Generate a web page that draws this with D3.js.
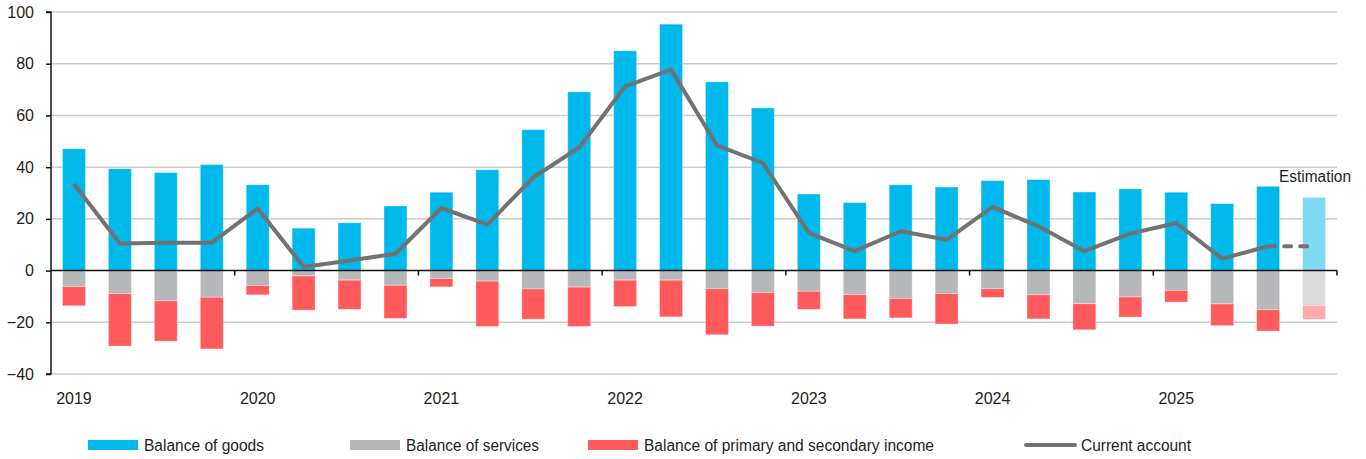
<!DOCTYPE html>
<html>
<head>
<meta charset="utf-8">
<script src="https://cdn.jsdelivr.net/npm/d3@7"></script>
<style>
  html, body { margin: 0; padding: 0; background: #fff; }
  svg { display: block; }
  text { font-family: "Liberation Sans", Arial, sans-serif; fill: #1e1e1e; }
</style>
</head>
<body>
<svg id="chart" width="1366" height="459"></svg>
<script>
// Quarterly current account breakdown, EUR bn
const quarters = [
  "2019Q1","2019Q2","2019Q3","2019Q4",
  "2020Q1","2020Q2","2020Q3","2020Q4",
  "2021Q1","2021Q2","2021Q3","2021Q4",
  "2022Q1","2022Q2","2022Q3","2022Q4",
  "2023Q1","2023Q2","2023Q3","2023Q4",
  "2024Q1","2024Q2","2024Q3","2024Q4",
  "2025Q1","2025Q2","2025Q3","2025Q4"
];
const goods = [47.1, 39.4, 37.9, 41.0, 33.2, 16.4, 18.5, 25.0, 30.3, 39.0, 54.5, 69.1, 85.0, 95.3,
               73.0, 62.9, 29.6, 26.3, 33.2, 32.3, 34.8, 35.2, 30.4, 31.6, 30.3, 25.9, 32.6, 28.3];
const services = [-6.2, -8.9, -11.7, -10.3, -5.8, -2.1, -3.7, -5.7, -3.1, -4.1, -7.1, -6.4, -3.7, -3.7,
                  -7.0, -8.5, -8.0, -9.3, -10.8, -8.9, -7.0, -9.4, -12.8, -10.2, -7.7, -12.9, -15.1, -13.5];
const income = [-7.4, -20.3, -15.6, -20.0, -3.6, -13.2, -11.3, -12.8, -3.2, -17.5, -11.7, -15.2, -10.2, -14.2,
                -17.8, -13.0, -7.0, -9.4, -7.5, -11.8, -3.4, -9.3, -10.1, -7.8, -4.5, -8.4, -8.3, -5.4];
const currentAccount = [33.5, 10.5, 10.8, 10.8, 24.0, 1.4, 3.9, 6.5, 24.2, 17.8, 36.0, 47.6, 71.2, 77.7,
                        48.4, 41.6, 14.6, 7.5, 15.2, 11.9, 24.6, 17.1, 7.5, 14.3, 18.4, 4.6, 9.4, 9.4];
const estimatedQuarters = ["2025Q4"];
const yTicks = [-40, -20, 0, 20, 40, 60, 80, 100];
const yearLabels = ["2019", "2020", "2021", "2022", "2023", "2024", "2025"];
const seriesNames = ["Balance of goods", "Balance of services",
                     "Balance of primary and secondary income", "Current account"];

const colors = {
  goods: "#00b9ec", services: "#b6b7b9", income: "#ff5a5c", line: "#727272",
  goodsEst: "#7fd9f3", servicesEst: "#dadada", incomeEst: "#ffaaab",
  grid: "#cbcbcb", axis: "#111"
};

const svg = d3.select("#chart");
const plotLeft = 51, plotRight = 1337, plotTop = 12, plotBottom = 374;

const x = d3.scaleBand().domain(quarters).range([plotLeft, plotRight]).paddingInner(0.5).paddingOuter(0.25);
const y = d3.scaleLinear().domain([-40, 100]).range([plotBottom, plotTop]);

// Horizontal gridlines
svg.append("g").selectAll("line")
  .data(yTicks.filter(t => t !== 0))
  .join("line")
  .attr("x1", plotLeft + 1).attr("x2", plotRight)
  .attr("y1", d => y(d)).attr("y2", d => y(d))
  .attr("stroke", colors.grid).attr("stroke-width", 1.5);

// Stacked bars: goods above zero, services then income below zero
const rows = quarters.map((q, i) => ({
  q, goods: goods[i], services: services[i], income: income[i],
  est: estimatedQuarters.includes(q)
}));
const segs = [];
rows.forEach(r => {
  segs.push({ q: r.q, y0: 0, y1: r.goods, fill: r.est ? colors.goodsEst : colors.goods });
  segs.push({ q: r.q, y0: 0, y1: r.services, fill: r.est ? colors.servicesEst : colors.services });
  segs.push({ q: r.q, y0: r.services, y1: r.services + r.income, fill: r.est ? colors.incomeEst : colors.income });
});
svg.append("g").selectAll("rect")
  .data(segs)
  .join("rect")
  .attr("x", d => x(d.q))
  .attr("width", x.bandwidth())
  .attr("y", d => y(Math.max(d.y0, d.y1)))
  .attr("height", d => Math.abs(y(d.y0) - y(d.y1)))
  .attr("fill", d => d.fill)
  .attr("stroke", "#fff").attr("stroke-opacity", 0.35).attr("stroke-width", 1);

// Y axis
const yAxis = svg.append("g")
  .attr("transform", `translate(${plotLeft},0)`)
  .call(d3.axisLeft(y).tickValues(yTicks).tickSize(5).tickPadding(12).tickFormat(d3.format("d")));
yAxis.select(".domain").attr("stroke", colors.axis).attr("stroke-width", 1.5)
  .attr("d", `M-5,${y(100)}H0V${y(-40)}H-5`);
yAxis.selectAll(".tick line").attr("stroke", colors.axis).attr("stroke-width", 1.5);
yAxis.selectAll(".tick text").attr("font-size", 16).style("fill", "#1e1e1e")
  .style("font-family", '"Liberation Sans", Arial, sans-serif');

// Zero line with year separators
const y0 = y(0);
svg.append("line").attr("x1", plotLeft).attr("x2", plotRight).attr("y1", y0).attr("y2", y0)
  .attr("stroke", colors.axis).attr("stroke-width", 1.5);
const yearStarts = quarters.filter(q => q.endsWith("Q1"));
const sepX = yearStarts.slice(1).map(q => x(q) - x.step() * x.paddingInner() / 2).concat([plotRight]);
svg.append("g").selectAll("line")
  .data(sepX)
  .join("line")
  .attr("x1", d => d).attr("x2", d => d)
  .attr("y1", y0).attr("y2", y0 + 5)
  .attr("stroke", colors.axis).attr("stroke-width", 1.5);

// Year labels under the first quarter of each year
svg.append("g").selectAll("text")
  .data(yearLabels)
  .join("text")
  .attr("x", d => x(d + "Q1") + x.bandwidth() / 2)
  .attr("y", 404)
  .attr("text-anchor", "middle")
  .attr("font-size", 16)
  .text(d => d);

// Current account line: solid for published quarters, dashed into the estimate
const pts = quarters.map((q, i) => [x(q) + x.bandwidth() / 2, y(currentAccount[i])]);
const firstEst = quarters.indexOf(estimatedQuarters[0]);
const line = d3.line();
svg.append("path")
  .attr("d", line(pts.slice(0, firstEst)))
  .attr("fill", "none").attr("stroke", colors.line).attr("stroke-width", 4)
  .attr("stroke-linejoin", "round");
svg.append("path")
  .attr("d", line(pts.slice(firstEst - 1)))
  .attr("fill", "none").attr("stroke", colors.line).attr("stroke-width", 4)
  .attr("stroke-linecap", "round").attr("stroke-dasharray", "7,9");

// Estimation note above the last bar
svg.append("text")
  .attr("x", 1279).attr("y", 182)
  .attr("font-size", 16)
  .attr("textLength", 72).attr("lengthAdjust", "spacingAndGlyphs")
  .text("Estimation");

// Legend
const legend = [
  { name: seriesNames[0], kind: "rect", color: colors.goods, x: 88, w: 120 },
  { name: seriesNames[1], kind: "rect", color: colors.services, x: 350, w: 133 },
  { name: seriesNames[2], kind: "rect", color: colors.income, x: 588, w: 290 },
  { name: seriesNames[3], kind: "line", color: colors.line, x: 1025, w: 110 }
];
const lg = svg.append("g").selectAll("g").data(legend).join("g")
  .attr("transform", d => `translate(${d.x},445)`);
lg.filter(d => d.kind === "rect").append("rect")
  .attr("x", 0).attr("y", -5).attr("width", 50).attr("height", 10)
  .attr("fill", d => d.color);
lg.filter(d => d.kind === "line").append("line")
  .attr("x1", 1).attr("x2", 50).attr("y1", 0).attr("y2", 0)
  .attr("stroke", d => d.color).attr("stroke-width", 4).attr("stroke-linecap", "round");
lg.append("text")
  .attr("x", 56).attr("y", 6)
  .attr("font-size", 16)
  .attr("textLength", d => d.w).attr("lengthAdjust", "spacingAndGlyphs")
  .text(d => d.name);
</script>
</body>
</html>
